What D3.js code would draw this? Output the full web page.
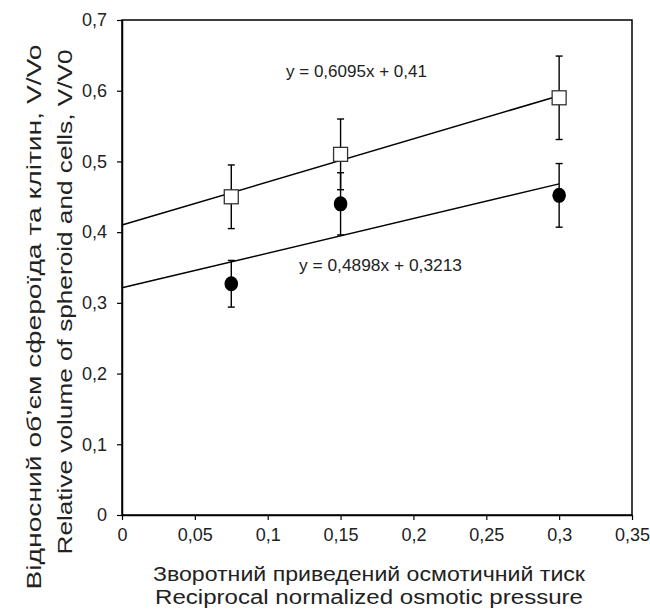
<!DOCTYPE html>
<html><head><meta charset="utf-8">
<script src="https://cdn.jsdelivr.net/npm/d3@7"></script>
<style>body{margin:0;background:#fff}svg{display:block}</style>
</head><body>
<div id="c"></div>
<script>
const xValues = [0.075, 0.15, 0.3];
const spheroid = [0.45, 0.51, 0.59];
const spheroidErr = [0.045, 0.05, 0.059];
const cells = [0.327, 0.44, 0.452];
const cellsErr = [0.033, 0.044, 0.045];
const fitSpheroid = {slope: 0.6095, intercept: 0.41, label: "y = 0,6095x + 0,41"};
const fitCells = {slope: 0.4898, intercept: 0.3213, label: "y = 0,4898x + 0,3213"};
const xTicks = [0, 0.05, 0.1, 0.15, 0.2, 0.25, 0.3, 0.35];
const yTicks = [0, 0.1, 0.2, 0.3, 0.4, 0.5, 0.6, 0.7];
const yTitle = ["Відносний об’єм сфероїда  та клітин, V/Vo", "Relative volume of spheroid and cells, V/V0"];
const xTitle = ["Зворотний приведений осмотичний тиск", "Reciprocal normalized osmotic pressure"];

const W = 650, H = 609;
const m = {left: 122, right: 18, top: 20, bottom: 94};
const svg = d3.select("#c").append("svg").attr("width", W).attr("height", H)
  .style("font-family", "'Liberation Sans', Arial, sans-serif");
const x = d3.scaleLinear().domain([0, 0.35]).range([m.left, W - m.right]);
const y = d3.scaleLinear().domain([0, 0.7]).range([H - m.bottom, m.top]);
const fmt = d => String(+d.toFixed(2)).replace(".", ",");
const ink = "#222";

// frame
svg.append("rect").attr("x", x(0)).attr("y", y(0.7)).attr("width", x(0.35) - x(0)).attr("height", y(0) - y(0.7))
  .attr("fill", "none").attr("stroke", "#000").attr("stroke-width", 1.5);

const gx = svg.append("g").attr("transform", `translate(0,${y(0)})`)
  .call(d3.axisBottom(x).tickValues(xTicks).tickFormat(fmt).tickSizeOuter(0).tickSizeInner(5).tickPadding(8));
const gy = svg.append("g").attr("transform", `translate(${x(0)},0)`)
  .call(d3.axisLeft(y).tickValues(yTicks).tickFormat(fmt).tickSizeOuter(0).tickSizeInner(5).tickPadding(10));
[gx, gy].forEach(g => {
  g.attr("font-size", null).attr("font-family", null);
  g.select(".domain").attr("stroke", "#000").attr("stroke-width", 1.5);
  g.selectAll(".tick line").attr("stroke", "#000").attr("stroke-width", 1.2);
  g.selectAll("text").attr("fill", ink).style("font-size", "18px").style("font-family", "'Liberation Sans', Arial, sans-serif");
});

// fit lines
[fitSpheroid, fitCells].forEach(f => {
  svg.append("line").attr("x1", x(0)).attr("y1", y(f.intercept))
    .attr("x2", x(0.3)).attr("y2", y(f.intercept + f.slope * 0.3))
    .attr("stroke", "#000").attr("stroke-width", 1.5);
});

// error bars
function errBars(vals, errs) {
  vals.forEach((v, i) => {
    const cx = x(xValues[i]);
    const g = svg.append("g").attr("stroke", "#000").attr("stroke-width", 1.4);
    g.append("line").attr("x1", cx).attr("x2", cx).attr("y1", y(v + errs[i])).attr("y2", y(v - errs[i]));
    [v + errs[i], v - errs[i]].forEach(e => g.append("line").attr("x1", cx - 3.5).attr("x2", cx + 3.5).attr("y1", y(e)).attr("y2", y(e)));
  });
}
errBars(spheroid, spheroidErr);
errBars(cells, cellsErr);

// markers
spheroid.forEach((v, i) => {
  svg.append("rect").attr("x", x(xValues[i]) - 7).attr("y", y(v) - 7).attr("width", 14).attr("height", 14)
    .attr("fill", "#fff").attr("stroke", "#333").attr("stroke-width", 1.3);
});
cells.forEach((v, i) => {
  svg.append("ellipse").attr("cx", x(xValues[i])).attr("cy", y(v)).attr("rx", 6.8).attr("ry", 7.5).attr("fill", "#000");
});

// equation labels
svg.append("text").attr("x", 286).attr("y", 77).text(fitSpheroid.label).attr("fill", ink).style("font-size", "17px")
  .attr("textLength", 141).attr("lengthAdjust", "spacingAndGlyphs");
svg.append("text").attr("x", 299).attr("y", 271).text(fitCells.label).attr("fill", ink).style("font-size", "17px")
  .attr("textLength", 163).attr("lengthAdjust", "spacingAndGlyphs");

// axis titles
svg.append("text").attr("x", 369).attr("y", 581).attr("text-anchor", "middle")
  .attr("fill", ink).style("font-size", "20px").attr("textLength", 432).attr("lengthAdjust", "spacingAndGlyphs").text(xTitle[0]);
svg.append("text").attr("x", 369).attr("y", 604).attr("text-anchor", "middle")
  .attr("fill", ink).style("font-size", "20px").attr("textLength", 428).attr("lengthAdjust", "spacingAndGlyphs").text(xTitle[1]);
svg.append("text").attr("transform", `translate(41,317) rotate(-90)`).attr("text-anchor", "middle")
  .attr("fill", ink).style("font-size", "21px").attr("textLength", 545).attr("lengthAdjust", "spacingAndGlyphs").text(yTitle[0]);
svg.append("text").attr("transform", `translate(72,302) rotate(-90)`).attr("text-anchor", "middle")
  .attr("fill", ink).style("font-size", "21px").attr("textLength", 505).attr("lengthAdjust", "spacingAndGlyphs").text(yTitle[1]);
</script>
</body></html>
